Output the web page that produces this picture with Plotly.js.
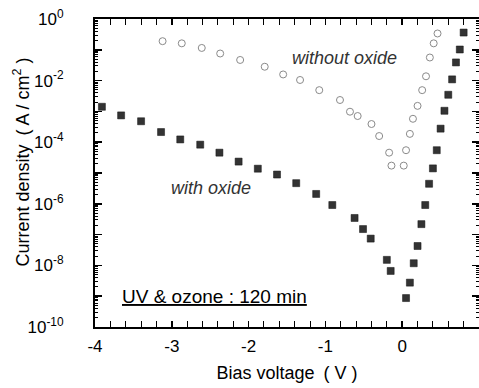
<!DOCTYPE html>
<html><head><meta charset="utf-8">
<script src="https://cdn.plot.ly/plotly-3.0.1.min.js"></script>
<style>html,body{margin:0;padding:0;background:#fff}</style>
</head><body><div id="chart" style="width:479px;height:388px"></div>
<script>
// Without oxide (open circles)
const woX = [-3.12,-2.87,-2.61,-2.37,-2.11,-1.79,-1.55,-1.33,-1.08,-0.81,-0.68,-0.58,-0.40,-0.30,-0.17,-0.14,0.02,0.05,0.10,0.14,0.20,0.26,0.31,0.36,0.41,0.46];
const woLogJ = [-0.72,-0.79,-0.94,-1.12,-1.33,-1.55,-1.80,-1.98,-2.31,-2.63,-3.01,-3.15,-3.41,-3.80,-4.34,-4.76,-4.76,-4.26,-3.73,-3.24,-2.82,-2.31,-1.86,-1.25,-0.79,-0.47];
// With oxide (filled squares)
const wX = [-3.91,-3.66,-3.40,-3.14,-2.89,-2.63,-2.38,-2.13,-1.88,-1.63,-1.38,-1.12,-0.91,-0.62,-0.51,-0.41,-0.20,-0.15,0.05,0.10,0.15,0.20,0.25,0.30,0.35,0.40,0.45,0.50,0.55,0.60,0.65,0.70,0.75,0.80];
const wLogJ = [-2.85,-3.13,-3.32,-3.67,-3.91,-4.08,-4.34,-4.63,-4.86,-5.05,-5.33,-5.68,-6.04,-6.46,-6.82,-7.13,-7.82,-8.18,-9.06,-8.56,-7.93,-7.37,-6.66,-6.04,-5.35,-4.85,-4.26,-3.56,-2.98,-2.46,-1.96,-1.41,-0.99,-0.44];
const xTickVals = [-4,-3,-2,-1,0,1];
const xTickText = ['-4','-3','-2','-1','0','1'];
const yLabelExp = [0,-2,-4,-6,-8,-10];
const yTickText = ['10<sup>0</sup>','10<sup>-2</sup>','10<sup>-4</sup>','10<sup>-6</sup>','10<sup>-8</sup>','10<sup>-10</sup>'];
const yAllExp = [0,-1,-2,-3,-4,-5,-6,-7,-8,-9,-10];

const pow = a => a.map(v => Math.pow(10, v));
const minorY = [];
for (let d = -10; d < 0; d++) for (let m = 2; m <= 9; m++) minorY.push(m * Math.pow(10, d));

const FAM = '"Liberation Sans", Arial, Helvetica, sans-serif';
const font = {family: FAM, size: 17, color: '#000'};
const titleFont = {family: FAM, size: 18, color: '#000'};

const traces = [
  {x: woX, y: pow(woLogJ), mode: 'markers', type: 'scatter',
   marker: {symbol: 'circle-open', size: 7, color: '#8a8a8a', line: {width: 1, color: '#8a8a8a'}}},
  {x: wX, y: pow(wLogJ), mode: 'markers', type: 'scatter',
   marker: {symbol: 'square', size: 7, color: '#333333', line: {width: 0.5, color: '#111'}}},
  {x: [], y: [], yaxis: 'y2', type: 'scatter', mode: 'markers', hoverinfo: 'skip'}
];

const layout = {
  width: 479, height: 388,
  margin: {l: 95, r: 0, t: 19, b: 61},
  paper_bgcolor: '#fff', plot_bgcolor: '#fff',
  showlegend: false,
  font: font,
  xaxis: {
    range: [-4, 1], tickvals: xTickVals, ticktext: xTickText,
    ticks: 'inside', ticklen: 6, tickwidth: 1.5, tickcolor: '#000',
    minor: {dtick: 0.2, ticks: 'inside', ticklen: 3, tickwidth: 1, tickcolor: '#000'},
    showline: true, linecolor: '#000', linewidth: 2, mirror: 'allticks',
    showgrid: false, zeroline: false,
    tickfont: font, ticklabelstandoff: 3,
    title: {text: 'Bias voltage\u2002( V )', font: titleFont, standoff: 11}
  },
  yaxis: {
    type: 'log', range: [-10, 0],
    tickvals: pow(yLabelExp), ticktext: yTickText,
    ticks: 'inside', ticklen: 7, tickwidth: 1.5, tickcolor: '#000',
    minor: {tickvals: minorY, ticks: 'inside', ticklen: 3, tickwidth: 1, tickcolor: '#000'},
    showline: true, linecolor: '#000', linewidth: 2, mirror: 'allticks',
    showgrid: false, zeroline: false,
    tickfont: font, ticklabelstandoff: 26
  },
  yaxis2: {
    type: 'log', range: [-10, 0], overlaying: 'y', side: 'left',
    tickvals: pow(yAllExp), showticklabels: false,
    ticks: 'inside', ticklen: 7, tickwidth: 1.5, tickcolor: '#000',
    showline: false, mirror: 'ticks', showgrid: false, zeroline: false
  },
  annotations: [
    {x: -0.19, y: 0.534, xref: 'paper', yref: 'paper', textangle: -90,
     xanchor: 'center', yanchor: 'middle',
     text: 'Current density\u2002( A / cm<sup>2</sup> )', showarrow: false, font: titleFont},
    {x: -0.745, y: -1.27, xref: 'x', yref: 'y', text: '<i>without oxide</i>', showarrow: false,
     font: {family: FAM, size: 18, color: '#333'}},
    {x: -2.49, y: -5.48, xref: 'x', yref: 'y', text: '<i>with oxide</i>', showarrow: false,
     font: {family: FAM, size: 18, color: '#333'}},
    {x: -2.45, y: -9.0, xref: 'x', yref: 'y', text: '<u>UV &amp; ozone : 120 min</u>', showarrow: false,
     font: {family: FAM, size: 19, color: '#000'}}
  ]
};

Plotly.newPlot('chart', traces, layout, {staticPlot: true, displayModeBar: false});
</script></body></html>
